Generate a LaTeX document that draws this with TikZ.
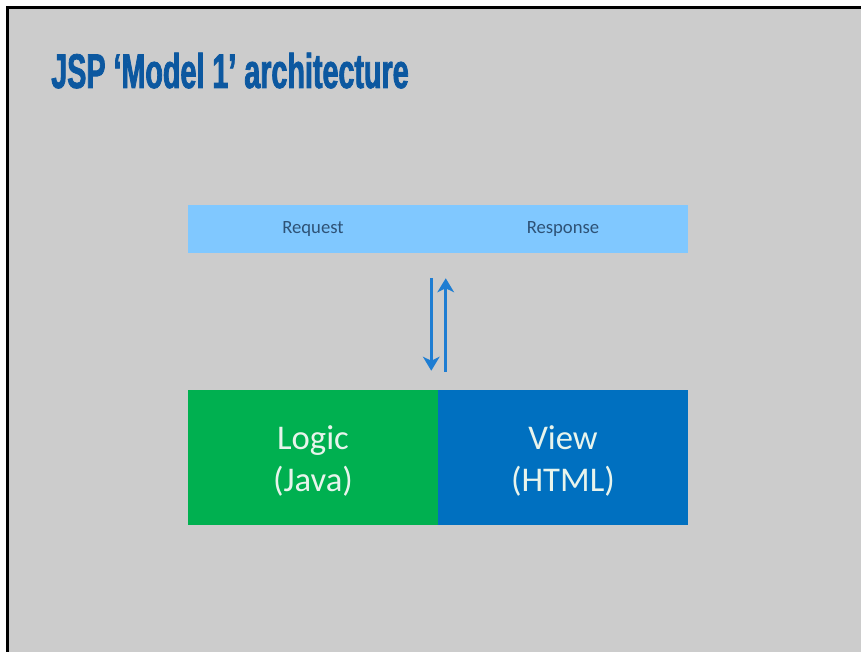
\documentclass[tikz,border=0pt]{standalone}
\usepackage{fontspec}
\setmainfont{Carlito}
\newfontfamily\titlefont[FakeStretch=0.59,FakeBold=1.6]{Liberation Sans}
\usetikzlibrary{arrows.meta}

\definecolor{slidegray}{RGB}{204,204,204}
\definecolor{titleblue}{RGB}{12,88,160}
\definecolor{barblue}{RGB}{128,200,255}
\definecolor{bartext}{RGB}{46,82,118}
\definecolor{logicgreen}{RGB}{0,176,80}
\definecolor{viewblue}{RGB}{0,112,192}
\definecolor{arrowblue}{RGB}{30,125,210}
\definecolor{boxtext}{RGB}{232,244,236}

\tikzset{
  barcell/.style={fill=barblue, draw=none, minimum width=187.5pt, minimum height=36pt,
                  inner sep=0pt, text=bartext, font=\fontsize{14}{16}\selectfont},
  layerbox/.style={draw=none, minimum width=187.5pt, minimum height=101.25pt,
                   inner sep=0pt},
  layertext/.style={inner sep=0pt, text=boxtext, align=center,
                    font=\fontsize{26}{31.5}\selectfont},
  flow/.style={draw=arrowblue, line width=2.25pt,
               -{Stealth[length=10.5pt,width=12.5pt,inset=3pt]}},
}

\begin{document}
\begin{tikzpicture}[x=0.75pt, y=-0.75pt]
  % page and slide background
  \fill[white] (0,0) rectangle (861,652);
  \useasboundingbox (0,0) rectangle (861,652);
  \fill[slidegray] (7.5,7.5) rectangle (861,652);
  \draw[black, line width=2.25pt] (7.5,652) -- (7.5,7.5) -- (861,7.5);

  % title
  \node[anchor=base west, inner sep=0pt, text=titleblue,
        font=\titlefont\bfseries\fontsize{36.5}{40}\selectfont] (title) at (51,88)
        {JSP ‘Model 1’ architecture};

  % request / response bar
  \node[barcell] (req)  at (313,229) {\raisebox{-1.5pt}{Request}};
  \node[barcell] (resp) at (563,229) {\raisebox{-1.5pt}{Response}};

  % logic and view blocks
  \node[layerbox, fill=logicgreen] (logic) at (313,457.5) {};
  \node[layerbox, fill=viewblue]   (view)  at (563,457.5) {};
  \node[layertext] (logiclabel) at ([yshift=-2.5pt]logic.center) {Logic\\(Java)};
  \node[layertext] (viewlabel)  at ([yshift=-2.5pt]view.center)  {View\\(HTML)};

  % request flows down, response flows up
  \draw[flow, shorten <=18.75pt, shorten >=14.25pt]
    ([xshift=-5.25pt]req.south east) -- ([xshift=-5.25pt]logic.north east);
  \draw[flow, shorten <=13.5pt, shorten >=18.75pt]
    ([xshift=6pt]view.north west) -- ([xshift=6pt]resp.south west);
\end{tikzpicture}
\end{document}
